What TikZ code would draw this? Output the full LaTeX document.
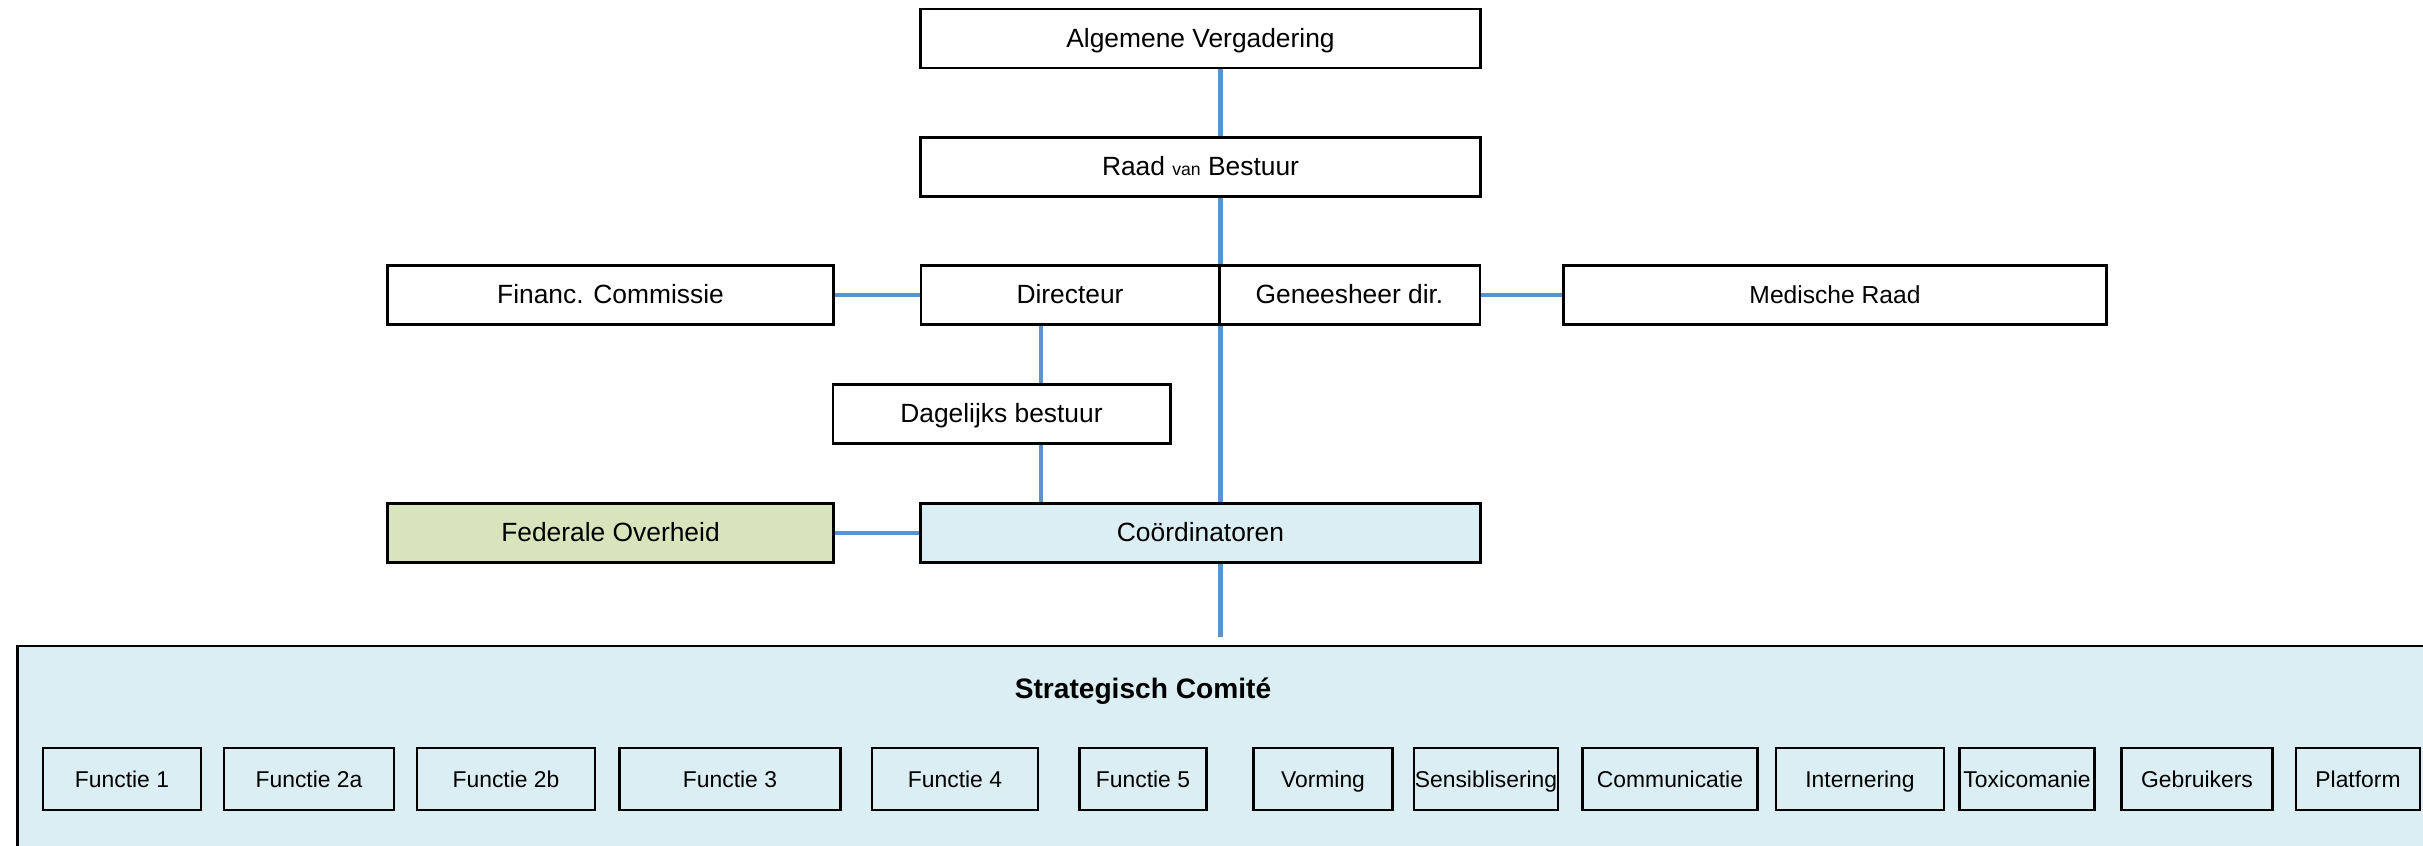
\documentclass[tikz,border=0pt]{standalone}
\usepackage{fontspec}
\setmainfont{Liberation Sans}

\definecolor{linkblue}{HTML}{5B93CF}
\definecolor{coordblue}{HTML}{DBEEF4}
\definecolor{fedgreen}{HTML}{D7E4BC}

\begin{document}
\begin{tikzpicture}[x=0.01cm,
					y=-0.01cm,
					box/.style={draw,line width=0.8pt,minimum height=0.59cm,inner sep=0pt,
					            text height=0.75em,text depth=0.25em,
					            font=\fontsize{7.5}{9}\selectfont},
					func box/.style={draw,line width=0.8pt,fill=coordblue,minimum height=0.62cm,
					                 inner sep=0pt,text height=0.75em,text depth=0.25em,
					                 font=\fontsize{6.5}{8}\selectfont},
					link/.style={draw=linkblue,line width=1.3pt,shorten >=2pt}]

  \clip (0,0) rectangle (2423,846);

  \node[box,minimum width=5.59cm] (AV) at (1200.5,38.5) {Algemene Vergadering};
  \node[box,minimum width=5.59cm] (RB) at (1200.5,167) {Raad {\fontsize{5}{6}\selectfont van} Bestuur};
  \node[box,minimum width=2.98cm] (Dir) at (1070,295) {Directeur};
  \node[box,minimum width=2.61cm] (Gen) at (1349.5,295) {Geneesheer dir.};
  \node[box,minimum width=4.45cm] (FC) at (610.5,295) {Financ. Commissie};
  \node[box,minimum width=5.42cm,font=\fontsize{7}{9}\selectfont] (MR) at (1835,295) {Medische Raad};
  \node[box,minimum width=3.37cm] (DB) at (1001.5,414) {Dagelijks bestuur};
  \node[box,fill=fedgreen,minimum width=4.45cm] (FO) at (610.5,533) {Federale Overheid};
  \node[box,fill=coordblue,minimum width=5.59cm] (Co) at (1200.5,533) {Coördinatoren};

  % strategisch comite
  \node[draw,line width=0.8pt,fill=coordblue,minimum width=24.22cm,minimum height=2.24cm] (SC) at (1229.5,758) {};
  \node[font=\bfseries\fontsize{8}{10}\selectfont] (SCt) at (1143,691) {Strategisch Comité};

  \foreach \cx/\w/\txt [count=\i] in {122/1.58/Functie 1, 309/1.70/Functie 2a, 506/1.78/Functie 2b,
      730/2.21/Functie 3, 955/1.66/Functie 4, 1143/1.27/Functie 5, 1323/1.39/Vorming,
      1486/1.44/Sensiblisering, 1670/1.75/Communicatie, 1860/1.68/Internering,
      2027/1.35/Toxicomanie, 2197/1.51/Gebruikers, 2358/1.24/Platform}
    \node[func box,minimum width=\w cm] (F\i) at (\cx,779) {\txt};

  \coordinate (dl) at (1041,0);

  \path[link]
    (AV.south -| Dir.north east) -- (Dir.north east |- RB.north)
    (RB.south -| Dir.north east) -- (Dir.north east)
    (FC) -- (Dir)
    (Gen) -- (MR)
    (Dir.south -| dl) -- (DB.north -| dl)
    (DB.south -| dl) -- (Co.north -| dl)
    (Dir.south east) -- (Dir.south east |- Co.north)
    (FO) -- (Co)
    (Co.south -| Dir.south east) -- (SC.north -| Dir.south east);
\end{tikzpicture}
\end{document}
